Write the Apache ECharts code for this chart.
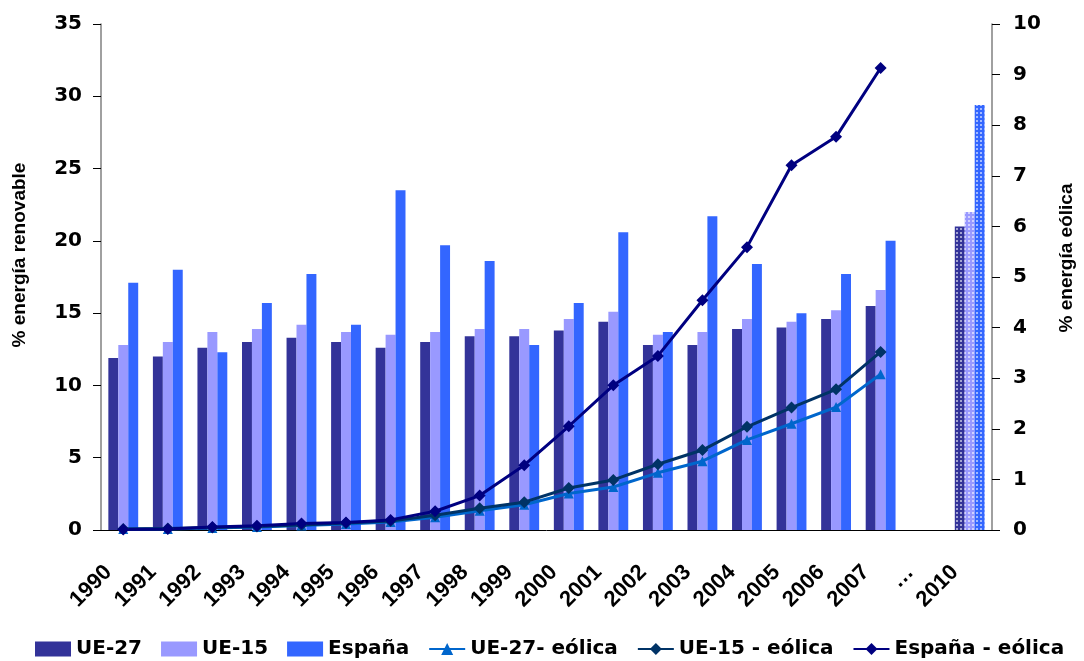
<!DOCTYPE html>
<html>
<head>
<meta charset="utf-8">
<style>
  html, body { margin: 0; padding: 0; background: #fff; }
  #chart { width: 1084px; height: 661px; }
</style>
<script src="https://cdn.jsdelivr.net/npm/echarts@6/dist/echarts.min.js"></script>
</head>
<body>
<div id="chart"></div>
<script>
// Years on the category axis ('…' marks the gap before the 2010 target)
const categories = ['1990','1991','1992','1993','1994','1995','1996','1997','1998','1999',
  '2000','2001','2002','2003','2004','2005','2006','2007','…','2010'];

// Share of renewable energy (%), left axis
const ue27 = [11.9,12.0,12.6,13.0,13.3,13.0,12.6,13.0,13.4,13.4,13.8,14.4,12.8,12.8,13.9,14.0,14.6,15.5,null,21.0];
const ue15 = [12.8,13.0,13.7,13.9,14.2,13.7,13.5,13.7,13.9,13.9,14.6,15.1,13.5,13.7,14.6,14.4,15.2,16.6,null,22.0];
const espana = [17.1,18.0,12.3,15.7,17.7,14.2,23.5,19.7,18.6,12.8,15.7,20.6,13.7,21.7,18.4,15.0,17.7,20.0,null,29.4];

// Share of wind energy (%), right axis
const ue27Eolica = [0.02,0.02,0.04,0.06,0.09,0.12,0.16,0.25,0.38,0.50,0.72,0.85,1.13,1.36,1.78,2.10,2.43,3.08,null,null];
const ue15Eolica = [0.02,0.03,0.05,0.07,0.10,0.14,0.18,0.29,0.43,0.55,0.83,0.99,1.30,1.58,2.04,2.42,2.78,3.52,null,null];
const espanaEolica = [0.01,0.02,0.06,0.085,0.13,0.15,0.20,0.37,0.68,1.28,2.05,2.86,3.44,4.54,5.59,7.21,7.77,9.13,null,null];

const TARGET_YEAR = '2010';

const wideFont = 'DejaVu Sans';
const arialFont = 'Liberation Sans';

// Target-year bars get a dotted texture
const dotted = {
  symbol: 'rect',
  symbolSize: 1,
  dashArrayX: [2, 2],
  dashArrayY: [2, 2],
  color: 'rgba(255,255,255,0.55)'
};
function barData(values) {
  return values.map((v, i) => categories[i] === TARGET_YEAR
    ? { value: v, itemStyle: { decal: dotted } }
    : v);
}

function barSeries(name, values, color) {
  return {
    name, type: 'bar', yAxisIndex: 0,
    data: barData(values),
    itemStyle: { color },
    barGap: '0%', barCategoryGap: '33%'
  };
}
function lineSeries(name, values, color, symbol, size) {
  return {
    name, type: 'line', yAxisIndex: 1,
    data: values,
    symbol, symbolSize: size,
    lineStyle: { color, width: 3 },
    itemStyle: { color },
    connectNulls: false
  };
}

const chart = echarts.init(document.getElementById('chart'), null, { renderer: 'canvas' });
chart.setOption({
  animation: false,
  backgroundColor: '#fff',
  grid: { left: 101, right: 87, top: 24, bottom: 131 },
  legend: {
    left: 30, top: 634,
    itemWidth: 36, itemHeight: 15, itemGap: 19,
    textStyle: { fontFamily: wideFont, fontWeight: 'bold', fontSize: 20, color: '#000' },
    data: [
      { name: 'UE-27', icon: 'rect' },
      { name: 'UE-15', icon: 'rect' },
      { name: 'España', icon: 'rect' },
      'UE-27- eólica', 'UE-15 - eólica', 'España - eólica'
    ]
  },
  xAxis: {
    type: 'category',
    data: categories,
    axisLine: { lineStyle: { color: '#000', width: 1 } },
    axisTick: { length: 7, lineStyle: { color: '#333' } },
    axisLabel: {
      rotate: 45, margin: 24, interval: 0, padding: [0, 21, 0, 0],
      fontFamily: arialFont, fontWeight: 'bold', fontSize: 22, color: '#000'
    }
  },
  yAxis: [
    {
      type: 'value', min: 0, max: 35, interval: 5, position: 'left',
      name: '% energía renovable', nameLocation: 'middle', nameRotate: 90, nameGap: 72,
      nameTextStyle: { fontFamily: arialFont, fontWeight: 'bold', fontSize: 19, color: '#000', padding: [0, 0, 0, 44] },
      axisLine: { show: true, lineStyle: { color: '#808080', width: 1.5 } },
      axisTick: { show: true, length: 8, lineStyle: { color: '#000' } },
      axisLabel: { margin: 19, fontFamily: wideFont, fontWeight: 'bold', fontSize: 20, color: '#000' },
      splitLine: { show: false }
    },
    {
      type: 'value', min: 0, max: 10, interval: 1, position: 'right',
      name: '% energía eólica', nameLocation: 'middle', nameRotate: 90, nameGap: 65,
      nameTextStyle: { fontFamily: arialFont, fontWeight: 'bold', fontSize: 19, color: '#000', padding: [0, 0, 0, 38] },
      axisLine: { show: true, lineStyle: { color: '#808080', width: 1.5 } },
      axisTick: { show: true, length: 8, lineStyle: { color: '#000' } },
      axisLabel: { margin: 21, fontFamily: wideFont, fontWeight: 'bold', fontSize: 20, color: '#000' },
      splitLine: { show: false }
    }
  ],
  series: [
    barSeries('UE-27', ue27, '#333399'),
    barSeries('UE-15', ue15, '#9999FF'),
    barSeries('España', espana, '#3366FF'),
    lineSeries('UE-27- eólica', ue27Eolica, '#0066CC', 'triangle', 10),
    lineSeries('UE-15 - eólica', ue15Eolica, '#003366', 'diamond', 12),
    lineSeries('España - eólica', espanaEolica, '#000080', 'diamond', 12)
  ]
});
</script>
</body>
</html>
